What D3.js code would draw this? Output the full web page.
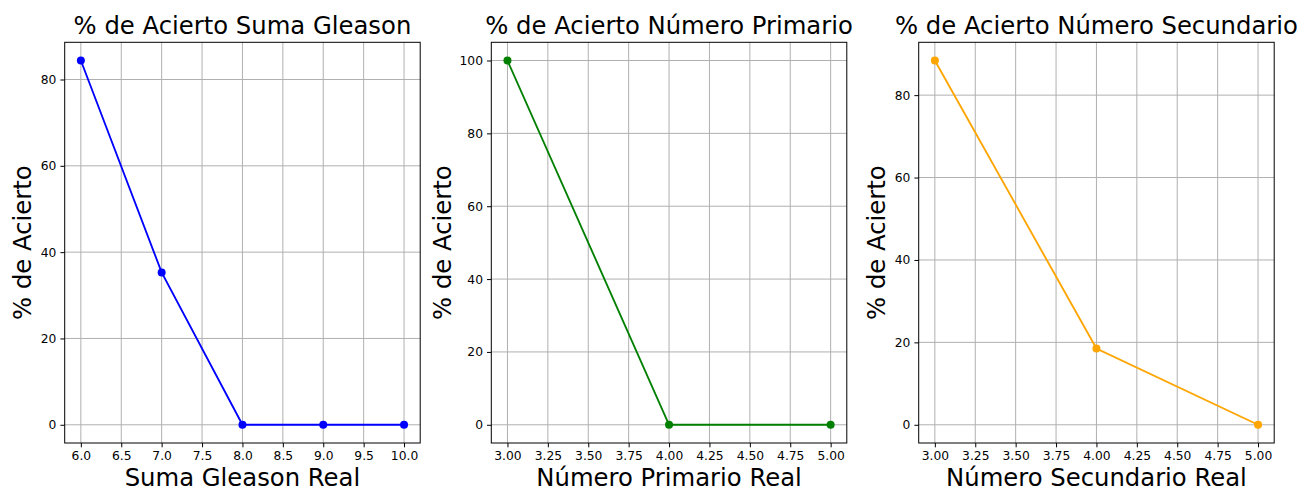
<!DOCTYPE html>
<html>
<head>
<meta charset="utf-8">
<title>% de Acierto</title>
<script src="https://d3js.org/d3.v7.min.js"></script>
<style>
  body { margin: 0; background: #fff; }
  svg text { font-family: "DejaVu Sans", sans-serif; }
  .tick text { font-size: 12.3px; fill: #000; }
  .tick line { stroke: #000; }
</style>
</head>
<body>
<svg id="chart" width="1300" height="489"></svg>
<script>
// data
var gleasonX   = [6, 7, 8, 9, 10];
var gleasonAcc = [84.4, 35.3, 0, 0, 0];
var primX      = [3, 4, 5];
var primAcc    = [100, 0, 0];
var secX       = [3, 4, 5];
var secAcc     = [88.4, 18.5, 0];

var gleasonTicksX = [6.0, 6.5, 7.0, 7.5, 8.0, 8.5, 9.0, 9.5, 10.0];
var numTicksX     = [3.00, 3.25, 3.50, 3.75, 4.00, 4.25, 4.50, 4.75, 5.00];
var ticksY80      = [0, 20, 40, 60, 80];
var ticksY100     = [0, 20, 40, 60, 80, 100];

var titles  = ["% de Acierto Suma Gleason", "% de Acierto Número Primario", "% de Acierto Número Secundario"];
var xLabels = ["Suma Gleason Real", "Número Primario Real", "Número Secundario Real"];
var yLabel  = "% de Acierto";

var panels = [
  { x: gleasonX, y: gleasonAcc, xt: gleasonTicksX, yt: ticksY80,  fmt: ".1f", color: "blue" },
  { x: primX,    y: primAcc,    xt: numTicksX,     yt: ticksY100, fmt: ".2f", color: "green" },
  { x: secX,     y: secAcc,     xt: numTicksX,     yt: ticksY80,  fmt: ".2f", color: "orange" }
];

var svg = d3.select("#chart");
var lefts = [64.7, 491.3, 918.7];
var pw = 355.5, axTop = 42.3, axBottom = 443;

// matplotlib style 5% padding
function padded(vals) {
  var e = d3.extent(vals), m = (e[1] - e[0]) * 0.05;
  return [e[0] - m, e[1] + m];
}

panels.forEach(function(p, i) {
  var g = svg.append("g").attr("transform", "translate(" + lefts[i] + ",0)");

  var x = d3.scaleLinear().domain(padded(p.x)).range([0, pw]);
  var y = d3.scaleLinear().domain(padded(p.y)).range([axBottom, axTop]);

  // grid
  g.append("g").selectAll("line").data(p.xt).join("line")
      .attr("x1", d => x(d)).attr("x2", d => x(d))
      .attr("y1", axTop).attr("y2", axBottom)
      .attr("stroke", "#b0b0b0").attr("stroke-width", 1);
  g.append("g").selectAll("line").data(p.yt).join("line")
      .attr("y1", d => y(d)).attr("y2", d => y(d))
      .attr("x1", 0).attr("x2", pw)
      .attr("stroke", "#b0b0b0").attr("stroke-width", 1);

  // axes
  var xa = g.append("g").attr("transform", "translate(0," + axBottom + ")")
      .call(d3.axisBottom(x).tickValues(p.xt).tickFormat(d3.format(p.fmt)).tickSize(4.3).tickPadding(4));
  var ya = g.append("g")
      .call(d3.axisLeft(y).tickValues(p.yt).tickFormat(d3.format("d")).tickSize(4.3).tickPadding(4));
  xa.select(".domain").remove();
  ya.select(".domain").remove();
  xa.attr("font-family", null).attr("font-size", null);
  ya.attr("font-family", null).attr("font-size", null);

  // frame
  g.append("rect").attr("x", 0).attr("y", axTop).attr("width", pw).attr("height", axBottom - axTop)
      .attr("fill", "none").attr("stroke", "#000").attr("stroke-width", 1);

  // line + markers
  var pts = p.x.map(function(v, j) { return [v, p.y[j]]; });
  g.append("path").datum(pts)
      .attr("fill", "none").attr("stroke", p.color).attr("stroke-width", 1.85)
      .attr("d", d3.line().x(d => x(d[0])).y(d => y(d[1])));
  g.selectAll("circle").data(pts).join("circle")
      .attr("cx", d => x(d[0])).attr("cy", d => y(d[1])).attr("r", 4)
      .attr("fill", p.color);

  // texts
  g.append("text").attr("x", pw / 2).attr("y", 34.3)
      .attr("text-anchor", "middle").attr("font-size", 24.3).text(titles[i]);
  g.append("text").attr("x", pw / 2).attr("y", 486)
      .attr("text-anchor", "middle").attr("font-size", 24.3).text(xLabels[i]);
});

var yLabX = [31, 451, 885];
yLabX.forEach(function(xx) {
  svg.append("text")
      .attr("transform", "translate(" + xx + "," + ((axTop + axBottom) / 2) + ") rotate(-90)")
      .attr("text-anchor", "middle").attr("font-size", 24.3).text(yLabel);
});
</script>
</body>
</html>
